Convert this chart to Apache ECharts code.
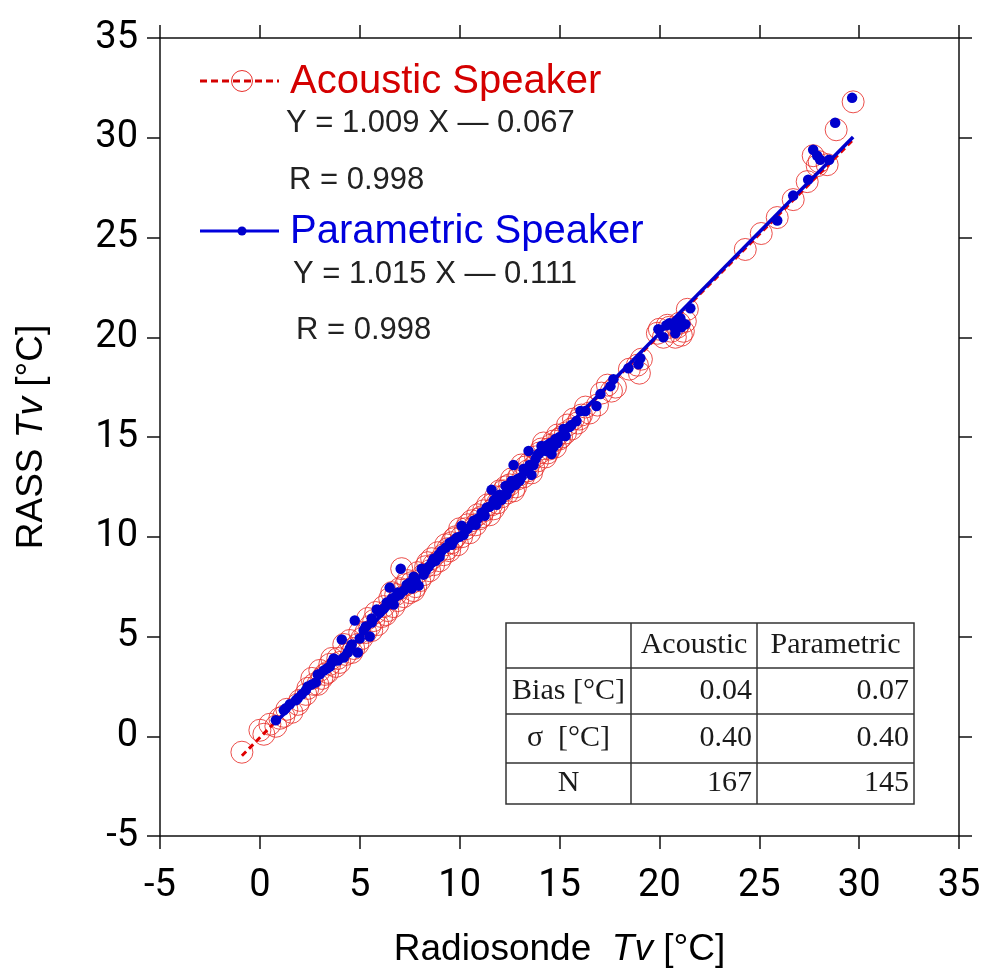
<!DOCTYPE html>
<html>
<head>
<meta charset="utf-8">
<script src="https://cdn.jsdelivr.net/npm/echarts@6/dist/echarts.min.js"></script>
<style>
  html, body { margin: 0; padding: 0; background: #ffffff; }
  #chart { width: 984px; height: 973px; }
</style>
</head>
<body>
<div id="chart"></div>
<script>
// RASS virtual temperature vs. radiosonde virtual temperature [°C]
// Acoustic speaker samples: [radiosonde Tv, RASS Tv]
const acousticPts = [
  [-0.9,-0.8],[0.0,0.3],[0.2,0.1],[0.8,0.5],[1.0,0.9],[1.35,1.35],[1.6,1.2],[2.0,1.8],[2.3,2.1],
  [2.7,2.6],[2.6,2.9],[3.1,2.9],[3.25,3.1],[3.5,3.6],[3.8,3.5],[3.6,3.9],[4.0,3.7],[4.3,4.1],
  [4.2,4.6],[4.6,4.2],[4.9,4.6],[5.1,4.9],[5.3,5.2],[5.6,5.3],[5.9,5.6],[5.4,5.9],[6.1,6.0],
  [6.4,6.3],[6.7,6.5],[6.9,6.8],[6.6,7.2],[7.0,7.4],[7.2,7.0],[7.5,7.2],[7.3,7.6],[7.8,7.5],
  [8.0,7.8],[7.1,8.4],[8.2,8.1],[8.5,8.3],[8.7,8.6],[9.0,8.8],[9.2,9.1],[9.5,9.3],[9.6,9.7],
  [9.9,9.6],[10.1,10.0],[10.3,10.4],[10.5,10.2],[10.8,10.6],[11.0,10.9],[11.2,11.3],[11.5,11.1],
  [11.6,11.6],[11.9,11.7],[12.1,12.0],[12.4,12.2],[12.5,12.6],[12.8,12.5],[12.9,12.9],[13.2,13.0],
  [13.4,13.3],[13.1,13.6],[13.7,13.5],[13.9,13.8],[14.0,14.2],[14.3,14.0],[14.5,14.4],[14.2,14.7],
  [14.8,14.5],[15.0,14.9],[15.3,15.2],[15.6,15.4],[15.9,15.7],[16.1,16.1],[16.5,16.2],[16.9,16.6],
  [17.1,17.2],[17.4,17.6],[17.8,17.5],[18.5,18.4],[18.9,18.6],[19.0,18.2],[19.1,18.9],[20.0,20.4],
  [20.2,20.0],[20.4,20.6],[20.6,20.3],[20.8,20.0],[21.0,20.7],[21.2,20.3],[21.4,21.4],[21.3,20.8],
  [24.3,24.4],[25.1,25.2],[25.9,26.0],[26.7,26.9],[27.4,27.8],[27.7,29.1],[28.0,28.8],[28.4,28.65],
  [28.85,30.4],[29.7,31.8],
  [1.9,1.6],[2.9,2.6],[3.4,3.2],[3.9,3.9],[4.5,4.8],[5.0,5.2],[5.8,6.2],[6.2,6.5],[6.8,7.1],
  [7.4,7.8],[7.7,7.3],[8.3,8.5],[8.9,9.2],[9.3,9.6],[9.8,10.0],[10.0,10.4],[10.6,10.8],[11.1,11.0],
  [11.4,11.6],[11.8,12.0],[12.2,12.3],[12.6,12.9],[12.7,12.3],[13.3,13.5],[13.6,13.2],[14.1,14.4],
  [14.4,14.2],[14.7,14.8],[15.1,15.0],[15.4,15.6],[8.6,8.9],[6.5,6.9],[5.5,5.5],[4.7,4.4],[12.3,12.5],
  [13.0,13.1],[13.8,14.0],[14.6,14.6],[10.4,10.6],[9.4,9.4],[7.9,8.2],[11.7,11.4],[15.7,15.9],
  [16.3,16.5],[17.6,17.3],[20.5,20.5],[20.9,20.5],[21.1,20.1],[19.9,20.2],[27.9,28.6],[3.0,3.3],
  [2.4,2.4],[1.2,1.0],[0.5,0.6],[5.7,5.8],[6.3,6.1],[7.6,7.7],[8.4,8.7],[9.7,9.9],[10.9,11.1],
  [12.0,12.3],[13.5,13.7],[14.9,15.1],[16.0,15.9]
];

// Parametric speaker samples: [radiosonde Tv, RASS Tv]
const parametricPts = [
  [0.8,0.8],[1.2,1.3],[1.3,1.4],[1.8,1.8],[1.9,1.9],[2.4,2.5],[2.8,2.7],[2.9,3.1],[3.0,3.1],
  [3.35,3.4],[3.6,3.7],[3.7,3.9],[4.2,3.95],[4.5,4.4],[4.1,4.85],[4.9,4.2],[5.2,5.3],[5.5,5.0],
  [4.75,5.8],[5.6,5.7],[5.6,5.9],[5.85,6.35],[6.35,6.7],[6.6,6.9],[6.5,7.45],[7.0,7.1],[7.35,7.6],
  [7.6,7.4],[7.7,8.0],[7.8,7.8],[7.95,7.55],[7.05,8.4],[8.1,8.4],[8.45,8.5],[8.8,8.8],[8.95,9.1],
  [9.3,9.45],[9.5,9.7],[9.85,9.95],[10.2,10.1],[10.1,10.55],[10.7,10.8],[11.25,11.05],[11.35,11.45],
  [11.85,11.6],[12.1,11.85],[12.35,12.1],[11.6,12.35],[12.3,12.55],[13.0,12.8],[13.6,13.1],
  [13.2,13.4],[12.7,13.6],[13.7,13.6],[13.45,14.3],[14.35,14.3],[14.6,14.15],[14.1,14.55],
  [14.55,14.7],[15.3,15.05],[15.2,15.4],[15.85,15.8],[16.05,16.3],[16.85,16.55],[17.05,17.15],
  [17.55,17.55],[17.7,17.9],[18.45,18.45],[18.95,18.65],[19.05,18.95],[19.95,20.4],[20.2,20.0],
  [20.35,20.6],[20.7,20.55],[20.8,20.2],[20.95,20.8],[21.05,20.95],[21.3,20.65],[21.55,21.45],
  [25.9,25.85],[26.7,27.1],[27.45,27.9],[27.7,29.4],[27.9,29.1],[28.05,28.9],[28.5,28.9],
  [28.8,30.75],[29.65,32.0],
  [2.1,2.1],[2.6,2.6],[3.2,3.3],[3.9,3.8],[4.4,4.2],[5.0,4.9],[6.0,6.2],[6.2,6.4],[6.8,7.0],
  [7.2,7.3],[7.5,7.7],[8.3,8.3],[8.6,8.7],[9.1,9.3],[9.6,9.6],[10.0,10.0],[10.4,10.4],[10.9,10.9],
  [11.1,11.2],[11.5,11.5],[12.0,12.1],[12.5,12.4],[12.9,12.9],[13.3,13.3],[13.8,13.9],[14.0,14.2],
  [14.2,14.4],[14.4,14.6],[14.8,14.9],[15.0,15.0],[15.5,15.5],[16.3,16.3],[12.8,12.6],[13.1,13.0],
  [13.9,14.1],[14.7,14.5],[9.7,9.8],[8.7,8.9],[7.4,7.5],[6.9,7.2],[5.3,5.5],[4.6,4.6],[3.5,3.5],
  [11.8,11.9],[12.6,12.8],[10.6,10.6],[13.5,13.6],[14.9,14.7],[15.6,15.6],[20.5,20.7],[21.1,20.5],
  [1.5,1.6],[2.3,2.3],[6.7,6.6],[8.2,8.1],[9.0,9.0],[10.8,10.6],[11.7,11.8]
];

// Linear fits and statistics
const acousticFit   = { name: 'Acoustic Speaker',   slope: 1.009, intercept: -0.067, r: 0.998, xFrom: -0.9, xTo: 29.7 };
const parametricFit = { name: 'Parametric Speaker', slope: 1.015, intercept: -0.111, r: 0.998, xFrom: 0.75, xTo: 29.7 };

const tableHeader = ['', 'Acoustic', 'Parametric'];
const tableRows = [
  ['Bias [°C]', '0.04', '0.07'],
  ['\u03c3  [°C]', '0.40', '0.40'],
  ['N', '167', '145']
];

const axisMin = -5, axisMax = 35, axisStep = 5;

const RED = '#d40000';
const RED_MARK = '#e8302c';
const BLUE = '#0000cc';
const INK = '#222222';

function fitLine(f) {
  return [[f.xFrom, f.slope * f.xFrom + f.intercept], [f.xTo, f.slope * f.xTo + f.intercept]];
}
function fitText(f) {
  return 'Y = ' + f.slope.toFixed(3) + ' X \u2014 ' + Math.abs(f.intercept).toFixed(3);
}

const chart = echarts.init(document.getElementById('chart'), null, { renderer: 'canvas' });

const axisCommon = {
  type: 'value', min: axisMin, max: axisMax, interval: axisStep,
  axisLine: { show: true, onZero: false, lineStyle: { color: '#111', width: 1.5 } },
  axisTick: { show: true, inside: false, length: 13, lineStyle: { color: '#111', width: 1.5 } },
  splitLine: { show: false }
};
const tickFont = { color: '#000', fontSize: 38, fontFamily: 'Roboto' };
const titleRich = {
  n: { fontFamily: 'Liberation Sans', fontSize: 37, color: '#000' },
  i: { fontFamily: 'Liberation Sans', fontSize: 37, color: '#000', fontStyle: 'italic' }
};

// Legend, fit equations and statistics table
const graphics = [];
function legendEntry(y, fit, color, dashed) {
  graphics.push({ type: 'line', shape: { x1: 200, y1: y, x2: 279, y2: y },
    style: { stroke: color, lineWidth: 3, lineDash: dashed ? [7, 4] : null } });
  if (dashed) {
    graphics.push({ type: 'circle', shape: { cx: 242, cy: y, r: 10.5 },
      style: { fill: 'none', stroke: RED_MARK, lineWidth: 1 } });
  } else {
    graphics.push({ type: 'circle', shape: { cx: 242, cy: y, r: 4.5 }, style: { fill: BLUE } });
  }
  graphics.push({ type: 'text', x: 290, y: y + 1, style: { text: fit.name, fill: color,
    font: '40px "Liberation Sans"', textVerticalAlign: 'middle' } });
}
const eqFont = '31px "Liberation Sans"';
legendEntry(81, acousticFit, RED, true);
graphics.push({ type: 'text', x: 286, y: 123, style: { text: fitText(acousticFit), fill: INK,
  font: eqFont, textVerticalAlign: 'middle' } });
graphics.push({ type: 'text', x: 289, y: 180, style: { text: 'R = ' + acousticFit.r.toFixed(3), fill: INK,
  font: eqFont, textVerticalAlign: 'middle' } });
legendEntry(231, parametricFit, '#0000dd', false);
graphics.push({ type: 'text', x: 293, y: 274, style: { text: fitText(parametricFit), fill: INK,
  font: eqFont, textVerticalAlign: 'middle' } });
graphics.push({ type: 'text', x: 296, y: 330, style: { text: 'R = ' + parametricFit.r.toFixed(3), fill: INK,
  font: eqFont, textVerticalAlign: 'middle' } });

// table geometry
const colX = [506, 631, 757, 914];
const rowY = [623, 668, 714, 763, 804];
graphics.push({ type: 'rect', shape: { x: colX[0], y: rowY[0], width: colX[3] - colX[0], height: rowY[4] - rowY[0] },
  style: { fill: '#fff', stroke: '#333', lineWidth: 1.5 }, z: 50 });
for (let i = 1; i < 3; i++) {
  graphics.push({ type: 'line', shape: { x1: colX[i], y1: rowY[0], x2: colX[i], y2: rowY[4] },
    style: { stroke: '#333', lineWidth: 1.5 }, z: 51 });
}
for (let j = 1; j < 4; j++) {
  graphics.push({ type: 'line', shape: { x1: colX[0], y1: rowY[j], x2: colX[3], y2: rowY[j] },
    style: { stroke: '#333', lineWidth: 1.5 }, z: 51 });
}
const allRows = [tableHeader].concat(tableRows);
allRows.forEach((row, j) => {
  const cy = (rowY[j] + rowY[j + 1]) / 2;
  row.forEach((txt, i) => {
    if (!txt) return;
    const numeric = j > 0 && i > 0;
    const x = numeric ? colX[i + 1] - 5 : (colX[i] + colX[i + 1]) / 2;
    graphics.push({ type: 'text', x: x, y: cy, z: 52, style: { text: txt, fill: '#1a1a1a',
      font: '30px "Liberation Serif"', textAlign: numeric ? 'right' : 'center', textVerticalAlign: 'middle' } });
  });
});

chart.setOption({
  animation: false,
  backgroundColor: '#ffffff',
  grid: { left: 160, top: 38, width: 799, height: 799 },
  xAxis: [
    Object.assign({}, axisCommon, {
      position: 'bottom',
      axisLabel: Object.assign({ margin: 31 }, tickFont),
      name: '{n|Radiosonde  }{i|Tv}{n| [°C]}',
      nameLocation: 'middle', nameGap: 95, nameTextStyle: { rich: titleRich }
    }),
    Object.assign({}, axisCommon, { position: 'top', axisLabel: { show: false } })
  ],
  yAxis: [
    Object.assign({}, axisCommon, {
      position: 'left',
      axisLabel: Object.assign({ margin: 22 }, tickFont),
      name: '{n|RASS }{i|Tv}{n| [°C]}',
      nameLocation: 'middle', nameGap: 110, nameTextStyle: { rich: titleRich }
    }),
    Object.assign({}, axisCommon, { position: 'right', axisLabel: { show: false } })
  ],
  graphic: graphics,
  series: [
    {
      type: 'scatter', name: acousticFit.name, data: acousticPts, symbol: 'circle', symbolSize: 22,
      itemStyle: { color: 'rgba(0,0,0,0)', borderColor: RED_MARK, borderWidth: 1, opacity: 0.85 }, z: 2
    },
    {
      type: 'line', data: fitLine(acousticFit), symbol: 'none',
      lineStyle: { color: '#e00000', width: 3, type: [6, 4] }, z: 3
    },
    {
      type: 'line', data: fitLine(parametricFit), symbol: 'none',
      lineStyle: { color: BLUE, width: 3.5 }, z: 4
    },
    {
      type: 'scatter', name: parametricFit.name, data: parametricPts, symbol: 'circle', symbolSize: 10.5,
      itemStyle: { color: BLUE, opacity: 1 }, z: 5
    }
  ]
});
</script>
</body>
</html>
